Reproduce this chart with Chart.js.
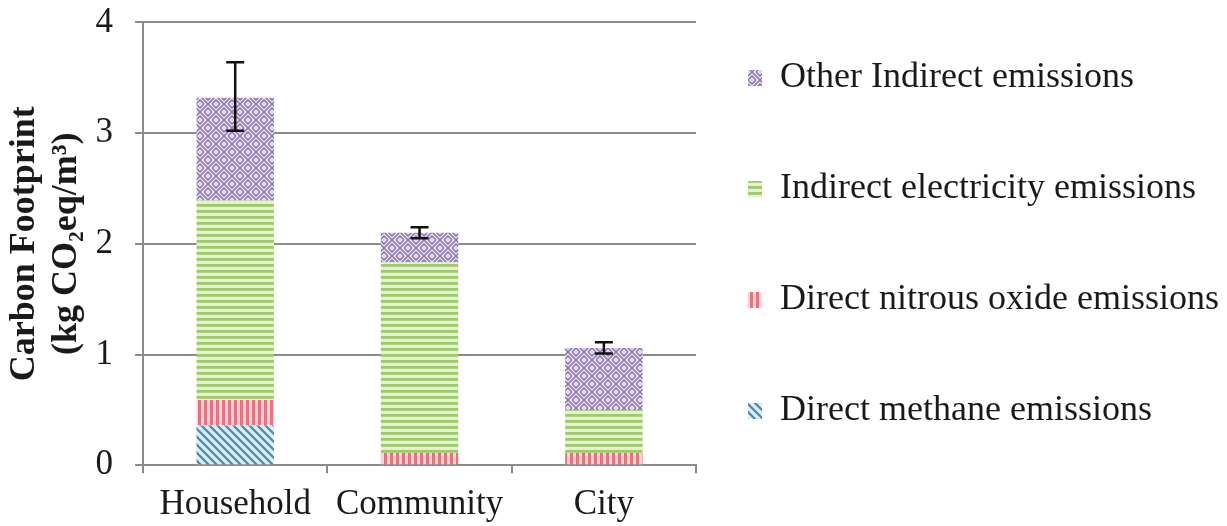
<!DOCTYPE html>
<html>
<head>
<meta charset="utf-8">
<script src="https://cdn.jsdelivr.net/npm/chart.js@4/dist/chart.umd.min.js"></script>
<style>
  html, body { margin: 0; padding: 0; background: #fff; }
  #wrap { width: 1227px; height: 526px; }
</style>
</head>
<body>
<div id="wrap"><canvas id="footprintChart" width="1227" height="526"></canvas></div>
<script>
// values (kg CO2eq/m3)
const categories = ["Household", "Community", "City"];
const methane = [0.36, 0, 0];
const nitrous = [0.23, 0.11, 0.11];
const electricity = [1.80, 1.72, 0.39];
const otherIndirect = [0.93, 0.27, 0.56];
const errLow = [3.02, 2.05, 1.01];
const errHigh = [3.64, 2.15, 1.11];
const seriesNames = [
    "Direct methane emissions",
    "Direct nitrous oxide emissions",
    "Indirect electricity emissions",
    "Other Indirect emissions"
];

const FONT = "'Liberation Serif', 'Times New Roman', serif";

function makePattern(size, bg, fg, draw) {
    const tile = document.createElement('canvas');
    tile.width = size;
    tile.height = size;
    const g = tile.getContext('2d');
    g.fillStyle = bg;
    g.fillRect(0, 0, size, size);
    g.fillStyle = fg;
    g.strokeStyle = fg;
    draw(g, size);
    return g.createPattern(tile, 'repeat');
}

// blue diagonal lines ("\")
const methanePattern = makePattern(8, '#d5eef8', '#4f86ab', (g, s) => {
    g.lineWidth = 2.2;
    g.beginPath();
    g.moveTo(-4, -4); g.lineTo(s + 4, s + 4);
    g.moveTo(-4, s - 4); g.lineTo(4, s + 4);
    g.moveTo(s - 4, -4); g.lineTo(s + 4, 4);
    g.stroke();
});

// red vertical stripes
const nitrousPattern = makePattern(6, '#fbd3d8', '#e8727e', (g, s) => {
    g.fillRect(0, 0, 3, s);
});

// green horizontal stripes
const electricityPattern = makePattern(6, '#e4f1d2', '#a0c96c', (g, s) => {
    g.fillRect(0, 0, s, 2.8);
});

// purple weave: cells of "/" and "\" strands in a checker
const otherPattern = makePattern(16, '#f5f0fa', '#8f78b5', (g, s) => {
    g.lineWidth = 1.6;
    const cell = s / 2;
    [[0, 0, 1], [cell, cell, 1], [cell, 0, -1], [0, cell, -1]].forEach(([cx, cy, dir]) => {
        g.save();
        g.beginPath();
        g.rect(cx, cy, cell, cell);
        g.clip();
        g.beginPath();
        for (let k = -cell; k <= 2 * cell; k += 4) {
            if (dir > 0) {
                g.moveTo(cx + k - cell, cy + cell); g.lineTo(cx + k, cy);
            } else {
                g.moveTo(cx + k - cell, cy); g.lineTo(cx + k, cy + cell);
            }
        }
        g.stroke();
        g.restore();
    });
});

const errorBars = {
    id: 'errorBars',
    afterDatasetsDraw(chart) {
        const {ctx, scales: {x, y}} = chart;
        ctx.save();
        ctx.strokeStyle = '#111';
        ctx.lineWidth = 2.5;
        categories.forEach((c, i) => {
            const px = x.getPixelForValue(i);
            const top = y.getPixelForValue(errHigh[i]);
            const bot = y.getPixelForValue(errLow[i]);
            ctx.beginPath();
            ctx.moveTo(px, top); ctx.lineTo(px, bot);
            ctx.moveTo(px - 9, top); ctx.lineTo(px + 9, top);
            ctx.moveTo(px - 9, bot); ctx.lineTo(px + 9, bot);
            ctx.stroke();
        });
        ctx.restore();
    }
};

const ctx = document.getElementById('footprintChart').getContext('2d');
const chart = new Chart(ctx, {
    type: 'bar',
    data: {
        labels: categories,
        datasets: [
            { label: seriesNames[0], data: methane, backgroundColor: methanePattern },
            { label: seriesNames[1], data: nitrous, backgroundColor: nitrousPattern },
            { label: seriesNames[2], data: electricity, backgroundColor: electricityPattern },
            { label: seriesNames[3], data: otherIndirect, backgroundColor: otherPattern }
        ]
    },
    options: {
        responsive: false,
        animation: false,
        // negative top/bottom only move the full-height legend column
        layout: { padding: { top: -25, left: 0, right: -2, bottom: -11 } },
        datasets: {
            bar: { barPercentage: 0.42, categoryPercentage: 1.0, borderWidth: 0 }
        },
        scales: {
            x: {
                stacked: true,
                grid: { drawOnChartArea: false, drawTicks: true, tickLength: 8, color: '#8c8c8c', lineWidth: 2 },
                border: { color: '#8c8c8c', width: 2 },
                ticks: { color: '#1a1a1a', padding: 10, font: { family: FONT, size: 35, lineHeight: 1.25 } }
            },
            y: {
                stacked: true,
                min: 0,
                max: 4,
                grid: { color: '#8c8c8c', lineWidth: 2, tickLength: 8 },
                border: { color: '#8c8c8c', width: 2 },
                ticks: { stepSize: 1, color: '#1a1a1a', padding: 22, font: { family: FONT, size: 35, lineHeight: 0.02 } },
                title: {
                    display: true,
                    text: ["Carbon Footprint", "(kg CO\u2082eq/m\u00b3)"],
                    color: '#1a1a1a',
                    padding: { top: 4, bottom: -14.7 },
                    font: { family: FONT, size: 36, weight: 'bold', lineHeight: 1.17 }
                }
            }
        },
        plugins: {
            tooltip: { enabled: false },
            legend: {
                position: 'right',
                reverse: true,
                maxWidth: 545,
                labels: {
                    color: '#1a1a1a',
                    boxWidth: 14,
                    boxHeight: 16,
                    padding: 52,
                    font: { family: FONT, size: 36, lineHeight: 1.639 },
                    generateLabels(chart) {
                        const items = Chart.defaults.plugins.legend.labels.generateLabels(chart);
                        // one-line arrays so the row height follows the font line height
                        return items.map(it => Object.assign(it, { text: [it.text], lineWidth: 0 }));
                    }
                }
            }
        }
    },
    plugins: [errorBars]
});
</script>
</body>
</html>
